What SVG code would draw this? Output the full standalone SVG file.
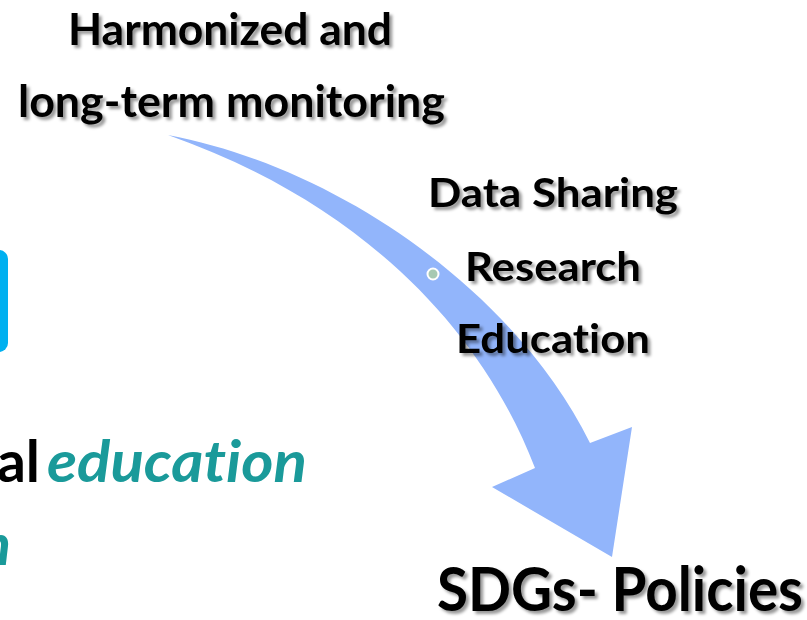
<svg xmlns="http://www.w3.org/2000/svg" width="807" height="620" viewBox="0 0 807 620">
  <defs>
    <filter id="shadow" x="-10%" y="-20%" width="120%" height="150%">
      <feGaussianBlur in="SourceAlpha" stdDeviation="1.5"/>
      <feOffset dx="2.5" dy="2.5" result="b"/>
      <feFlood flood-color="#000" flood-opacity="0.4"/>
      <feComposite in2="b" operator="in"/>
      <feMerge><feMergeNode/><feMergeNode in="SourceGraphic"/></feMerge>
    </filter>
  </defs>
  <style>
    text { font-variant-ligatures: none; }
    .lbl { font-family: Lato, "Open Sans", "Liberation Sans", sans-serif; font-weight: 700; fill: #000; }
    .sh { filter: url(#shadow); }
    .teal { font-family: Lato, "Open Sans", "Liberation Sans", sans-serif; font-weight: 700; font-style: italic; fill: #1a9a9a; }
    .blk { font-family: Lato, "Open Sans", "Liberation Sans", sans-serif; font-weight: 700; fill: #000; }
  </style>
  <rect width="807" height="620" fill="#fff"/>

  <g id="connectors">
    <path id="curved-arrow" fill="#92b5fb" d="M168,135 C340,168 515,292 590,443 L632,427 L612,557 L492,487 L535,468 C475,312 342,196 168,135 Z"/>
    <circle cx="433" cy="274" r="5.5" fill="#a7c9b3" stroke="#fff" stroke-width="2"/>
  </g>

  <g id="side-box">
    <rect x="-20" y="250" width="28" height="102" rx="9" fill="#00b0f0"/>
  </g>

  <g id="monitoring" class="sh">
    <text class="lbl" x="68" y="45" font-size="43" textLength="324" lengthAdjust="spacingAndGlyphs">Harmonized and</text>
    <text class="lbl" x="18" y="117" font-size="43" textLength="427" lengthAdjust="spacingAndGlyphs">long-term monitoring</text>
  </g>

  <g id="activities" class="sh">
    <text class="lbl" x="428" y="207" font-size="40" textLength="250" lengthAdjust="spacingAndGlyphs">Data Sharing</text>
    <text class="lbl" x="465" y="281" font-size="40" textLength="176" lengthAdjust="spacingAndGlyphs">Research</text>
    <text class="lbl" x="456" y="353" font-size="40" textLength="194" lengthAdjust="spacingAndGlyphs">Education</text>
  </g>

  <g id="sdgs" class="sh">
    <text class="lbl" x="437" y="611" font-size="62" textLength="366" lengthAdjust="spacingAndGlyphs">SDGs- Policies</text>
  </g>

  <g id="education-text">
    <text class="blk" x="-3" y="482" font-size="57" textLength="43" lengthAdjust="spacingAndGlyphs">al</text>
    <text class="teal" x="47" y="482" font-size="57" textLength="260" lengthAdjust="spacingAndGlyphs">education</text>
    <text class="teal" x="-20" y="565" font-size="57">n</text>
    <text class="teal" x="0" y="652" font-size="57" textLength="122" lengthAdjust="spacingAndGlyphs">ources</text>
  </g>
</svg>
